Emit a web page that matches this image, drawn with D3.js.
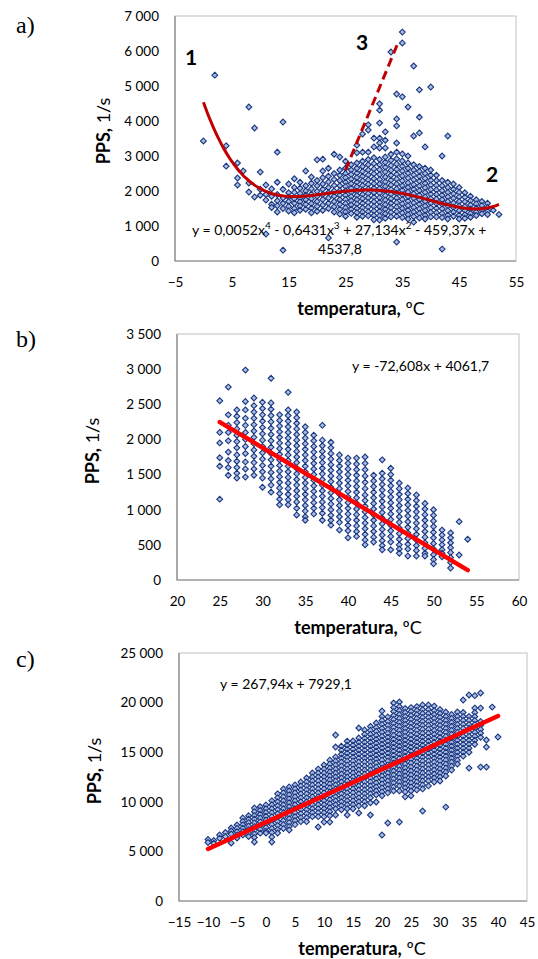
<!DOCTYPE html>
<html>
<meta charset="utf-8">
<head>
  <title>PPS vs temperatura</title>
</head>

<style>
body { margin: 0; background: #fff; }
text { font-family: Lato, "Open Sans", sans-serif; fill: #000; }
.tick text { font-size: 13.5px; }
.tick line { display: none; }
.domain { display: none; }
.letter { font-family: "Liberation Serif", "DejaVu Serif", serif; font-size: 24px; }
.num { font-size: 21px; font-weight: bold; }
.eq { font-size: 14px; }
.title { font-size: 18px; }
</style>

<body>
  <div id="chart"></div>

  <script src="https://d3js.org/d3.v7.min.js"></script>
  <script>

// ---------- panel a) : [temperatura, [PPS values ...]] ----------
var colsA = [
  [0, [3430]], [2, [5310]], [4, [3290, 2710]], [6, [2800, 2370, 2170]], [7, [2570]],
  [8, [4400, 2230, 1970]], [9, [3800, 1830]], [10, [2540, 2050, 1880]],
  [11, [2170, 1900, 1740, 770]], [12, [2060, 1850, 1620, 1530]],
  [13, [3110, 2250, 1900, 1720, 1580, 1400]], [14, [3970, 2050, 1800, 1650, 1500, 310]],
  [15, [2200, 1950, 1820, 1700, 1560, 1430]], [16, [2350, 2100, 1960, 1780, 1650, 1500, 1380]],
  [17, [2250, 2080, 1930, 1800, 1690, 1570, 1450]], [18, [2570, 2150, 2000, 1880, 1750, 1620, 1480]],
  [19, [2400, 2220, 2060, 1910, 1780, 1640, 1510, 1380]],
  [20, [2890, 2300, 2150, 1990, 1850, 1700, 1560, 1420]],
  [21, [2910, 2570, 2380, 2200, 2050, 1900, 1760, 1600, 1450]],
  [22, [2650, 2420, 2260, 2100, 1950, 1800, 1650, 1500, 660]],
  [23, [3050, 2500, 2330, 2160, 2000, 1850, 1700, 1550, 1400]],
  [24, [2970, 2600, 2450, 2300, 2150, 2010, 1880, 1750, 1620, 1480, 1340]],
  [25, [2850, 2650, 2500, 2380, 2250, 2130, 2000, 1880, 1760, 1640, 1520, 1400, 1280]],
  [26, [2750, 2600, 2470, 2340, 2210, 2080, 1960, 1840, 1720, 1600, 1480, 1360]],
  [27, [3310, 3090, 2800, 2650, 2510, 2380, 2250, 2120, 1990, 1870, 1750, 1630, 1500, 1380, 1250]],
  [28, [3630, 3110, 2850, 2700, 2560, 2420, 2290, 2160, 2030, 1900, 1780, 1650, 1520, 1400, 1280]],
  [29, [3890, 3740, 3110, 2900, 2750, 2600, 2460, 2320, 2190, 2060, 1930, 1800, 1670, 1540, 1410, 1290]],
  [30, [3510, 3260, 2950, 2780, 2630, 2490, 2350, 2210, 2080, 1950, 1820, 1690, 1560, 1430, 1300, 1180]],
  [31, [4490, 4310, 3940, 3510, 3370, 3230, 2900, 2750, 2610, 2470, 2330, 2200, 2070, 1940, 1810, 1680, 1550, 1420, 1290, 1170]],
  [32, [3690, 3450, 3230, 2970, 2820, 2680, 2540, 2400, 2260, 2130, 2000, 1870, 1740, 1610, 1480, 1350, 1220]],
  [33, [5970, 3050, 2880, 2730, 2590, 2450, 2310, 2170, 2040, 1910, 1780, 1650, 1520, 1390, 1260]],
  [34, [4770, 4060, 3860, 3370, 3110, 2920, 2770, 2620, 2480, 2340, 2200, 2060, 1930, 1800, 1670, 1540, 1410, 1280, 540]],
  [35, [6540, 6230, 4690, 3060, 2860, 2710, 2570, 2430, 2290, 2150, 2020, 1890, 1760, 1630, 1500, 1370, 1240]],
  [36, [4400, 3000, 2800, 2650, 2510, 2370, 2230, 2100, 1970, 1840, 1710, 1580, 1450, 1320, 1200]],
  [37, [5570, 3570, 2750, 2600, 2460, 2320, 2180, 2050, 1920, 1790, 1660, 1530, 1400, 1270, 1110]],
  [38, [4890, 4110, 3660, 2700, 2560, 2420, 2280, 2140, 2010, 1880, 1750, 1620, 1490, 1360, 1230]],
  [39, [3260, 2650, 2500, 2360, 2220, 2090, 1960, 1830, 1700, 1570, 1440, 1310, 1200]],
  [40, [4970, 2600, 2450, 2310, 2170, 2040, 1910, 1780, 1650, 1520, 1390, 1260]],
  [41, [2450, 2300, 2160, 2030, 1900, 1770, 1640, 1510, 1380, 1260]],
  [42, [3000, 2300, 2150, 2010, 1880, 1750, 1620, 1490, 1360, 1240, 340]],
  [43, [3570, 2250, 2100, 1960, 1830, 1700, 1570, 1440, 1310, 1200]],
  [44, [2200, 2050, 1920, 1790, 1660, 1530, 1400, 1280]],
  [45, [2100, 1960, 1830, 1700, 1570, 1440, 1310, 1200]],
  [46, [1950, 1820, 1690, 1560, 1440, 1320, 1220]],
  [47, [1850, 1720, 1600, 1480, 1360, 1250]],
  [48, [1750, 1630, 1510, 1400, 1300]],
  [49, [1700, 1580, 1460, 1350]],
  [50, [1650, 1530, 1420, 1330]],
  [51, [1450]], [52, [1330]]
];
// 4th order trend: c4, c3, c2, c1, c0
var polyA = [0.0052, -0.6431, 27.134, -459.37, 4537.8];
var polyRangeA = [0, 52];
var dashA = [[25, 2600], [34.3, 6260]];

// ---------- panel b) ----------
var colsB = [
  [25, [2550, 2100, 1950, 1740, 1620, 1150]],
  [26, [2745, 2350, 2200, 2100, 1980, 1820, 1700, 1600, 1490]],
  [27, [2420, 2330, 2240, 2150, 2060, 1970, 1880, 1780, 1690, 1600, 1520, 1450]],
  [28, [2987, 2540, 2420, 2300, 2200, 2100, 2000, 1900, 1800, 1680, 1580, 1465]],
  [29, [2590, 2480, 2390, 2300, 2210, 2120, 2030, 1940, 1850, 1760, 1670, 1580, 1490]],
  [30, [2530, 2440, 2350, 2260, 2170, 2080, 1990, 1900, 1810, 1720, 1630, 1540, 1450, 1320]],
  [31, [2870, 2520, 2430, 2340, 2250, 2160, 2070, 1980, 1890, 1800, 1710, 1620, 1530, 1440, 1350, 1250]],
  [32, [2350, 2270, 2190, 2110, 2030, 1950, 1870, 1790, 1710, 1630, 1550, 1470, 1390, 1310, 1230, 1150, 1070]],
  [33, [2670, 2420, 2340, 2260, 2180, 2100, 2020, 1940, 1860, 1780, 1700, 1620, 1540, 1460, 1380, 1300, 1220, 1140, 1070]],
  [34, [2390, 2310, 2230, 2150, 2070, 1990, 1910, 1830, 1750, 1670, 1590, 1510, 1430, 1350, 1270, 1190, 1110, 1020, 925]],
  [35, [2180, 2100, 2020, 1940, 1860, 1780, 1700, 1620, 1540, 1460, 1380, 1300, 1220, 1140, 1060, 980, 900, 850]],
  [36, [2060, 1980, 1900, 1820, 1740, 1660, 1580, 1500, 1420, 1340, 1260, 1180, 1100, 1020, 940]],
  [37, [2200, 1990, 1910, 1830, 1750, 1670, 1590, 1510, 1430, 1350, 1270, 1190, 1110, 1030, 950, 850]],
  [38, [1960, 1880, 1800, 1720, 1640, 1560, 1480, 1400, 1320, 1240, 1160, 1080, 1000, 920, 850, 780]],
  [39, [1780, 1700, 1620, 1540, 1460, 1380, 1300, 1220, 1140, 1060, 980, 900, 820, 710]],
  [40, [1735, 1660, 1580, 1500, 1420, 1340, 1260, 1180, 1100, 1020, 940, 860, 780, 700, 600]],
  [41, [1735, 1650, 1570, 1490, 1410, 1330, 1250, 1170, 1090, 1010, 930, 850, 770, 690, 620]],
  [42, [1750, 1660, 1570, 1480, 1390, 1300, 1210, 1130, 1050, 970, 890, 810, 730, 650, 570, 500]],
  [43, [1490, 1410, 1330, 1250, 1170, 1090, 1010, 930, 850, 770, 690, 610, 540]],
  [44, [1710, 1520, 1440, 1360, 1280, 1200, 1120, 1040, 960, 880, 800, 720, 640, 560, 490, 430]],
  [45, [1590, 1500, 1420, 1340, 1260, 1180, 1100, 1020, 940, 860, 780, 700, 620, 540, 430]],
  [46, [1380, 1300, 1220, 1140, 1060, 980, 900, 820, 740, 660, 580, 500, 440, 380]],
  [47, [1310, 1230, 1150, 1070, 990, 910, 830, 750, 670, 590, 510, 440, 340]],
  [48, [1210, 1130, 1050, 970, 890, 810, 730, 650, 570, 490, 420, 340]],
  [49, [1090, 1010, 930, 850, 770, 690, 610, 530, 450, 380, 340]],
  [50, [1000, 920, 840, 760, 680, 600, 520, 440, 360, 290, 230]],
  [51, [710, 640, 570, 500, 430, 380, 330]],
  [52, [670, 600, 530, 460, 390, 320, 250, 170]],
  [53, [830, 355]], [54, [580]]
];
var lineB = [-72.608, 4061.7];
var lineRangeB = [25, 54];

// ---------- panel c) ----------
var colsC = [
  [-10, [6200, 5900]], [-9, [6100, 5820]], [-8, [6650, 6320]], [-7, [6900, 6500]],
  [-6, [7360, 7050, 6750, 5850]], [-5, [7660, 7320, 6980, 6640, 6350]],
  [-4, [8370, 8020, 7680, 7340, 7000, 6660]], [-3, [8600, 8250, 7900, 7550, 7200, 6850, 6500]],
  [-2, [9370, 9000, 8620, 8250, 7880, 7500, 7130, 6760, 6400, 5950]],
  [-1, [9500, 9120, 8740, 8360, 7980, 7600, 7220, 6840]],
  [0, [9680, 9300, 8920, 8540, 8160, 7780, 7400, 7020, 6850]],
  [1, [10100, 9700, 9300, 8900, 8500, 8100, 7700, 7300, 6900, 6450, 5950]],
  [2, [10800, 10400, 10000, 9600, 9200, 8800, 8400, 8000, 7600, 7200, 6850]],
  [3, [11300, 10900, 10500, 10100, 9700, 9300, 8900, 8500, 8100, 7700, 7300]],
  [4, [11500, 11100, 10700, 10300, 9900, 9500, 9100, 8700, 8300, 7900, 7500, 7160]],
  [5, [11700, 11300, 10900, 10500, 10100, 9700, 9300, 8900, 8500, 8100, 7700]],
  [6, [12000, 11600, 11200, 10800, 10400, 10000, 9600, 9200, 8800, 8400, 8000]],
  [7, [12400, 12000, 11600, 11200, 10800, 10400, 10000, 9600, 9200, 8800, 8400, 8000]],
  [8, [12900, 12500, 12100, 11700, 11300, 10900, 10500, 10100, 9700, 9300, 8900, 8500]],
  [9, [13300, 12900, 12500, 12100, 11700, 11300, 10900, 10500, 10100, 9700, 9300, 8900, 8500, 7460]],
  [10, [13710, 13300, 12900, 12500, 12100, 11700, 11300, 10900, 10500, 10100, 9700, 9300, 8900, 8500, 7960]],
  [11, [14200, 13800, 13400, 13000, 12600, 12200, 11800, 11400, 11000, 10600, 10200, 9800, 9400, 9000, 8600, 7960]],
  [12, [16730, 15520, 14520, 14100, 13700, 13300, 12900, 12500, 12100, 11700, 11300, 10900, 10500, 10100, 9700, 9300, 8670]],
  [13, [15600, 15200, 14800, 14400, 14000, 13600, 13200, 12800, 12400, 12000, 11600, 11200, 10800, 10400, 10000, 9600, 9200]],
  [14, [16100, 15700, 15300, 14900, 14500, 14100, 13700, 13300, 12900, 12500, 12100, 11700, 11300, 10900, 10500, 10100, 9700, 9300, 8670]],
  [15, [16130, 15700, 15300, 14900, 14500, 14100, 13700, 13300, 12900, 12500, 12100, 11700, 11300, 10900, 10500, 10100, 9700, 9300]],
  [16, [17440, 16430, 16000, 15600, 15200, 14800, 14400, 14000, 13600, 13200, 12800, 12400, 12000, 11600, 11200, 10800, 10400, 10000, 9600, 8870]],
  [17, [17240, 16800, 16400, 16000, 15600, 15200, 14800, 14400, 14000, 13600, 13200, 12800, 12400, 12000, 11600, 11200, 10800, 10400, 10000, 9600]],
  [18, [17600, 17200, 16800, 16400, 16000, 15600, 15200, 14800, 14400, 14000, 13600, 13200, 12800, 12400, 12000, 11600, 11200, 10800, 10400, 9900, 8670]],
  [19, [17940, 17500, 17100, 16700, 16300, 15900, 15500, 15100, 14700, 14300, 13900, 13500, 13100, 12700, 12300, 11900, 11500, 11100, 10700, 9980]],
  [20, [19150, 18600, 18200, 17800, 17400, 17000, 16600, 16200, 15800, 15400, 15000, 14600, 14200, 13800, 13400, 13000, 12600, 12200, 11800, 11400, 11000, 10600, 6650]],
  [21, [18550, 18100, 17700, 17300, 16900, 16500, 16100, 15700, 15300, 14900, 14500, 14100, 13700, 13300, 12900, 12500, 12100, 11700, 11300, 10900, 7860]],
  [22, [19960, 19500, 19100, 18700, 18300, 17900, 17500, 17100, 16700, 16300, 15900, 15500, 15100, 14700, 14300, 13900, 13500, 13100, 12700, 12300, 11900, 11500, 11100]],
  [23, [20060, 19600, 19200, 18800, 18400, 18000, 17600, 17200, 16800, 16400, 16000, 15600, 15200, 14800, 14400, 14000, 13600, 13200, 12800, 12400, 12000, 11600, 11100, 7960]],
  [24, [19400, 19000, 18600, 18200, 17800, 17400, 17000, 16600, 16200, 15800, 15400, 15000, 14600, 14200, 13800, 13400, 13000, 12600, 12200, 11800, 11400, 11000, 10500]],
  [25, [19500, 19100, 18700, 18300, 17900, 17500, 17100, 16700, 16300, 15900, 15500, 15100, 14700, 14300, 13900, 13500, 13100, 12700, 12300, 11900, 11500, 11100, 10600]],
  [26, [19600, 19200, 18800, 18400, 18000, 17600, 17200, 16800, 16400, 16000, 15600, 15200, 14800, 14400, 14000, 13600, 13200, 12800, 12400, 12000, 11600, 11200]],
  [27, [19760, 19300, 18900, 18500, 18100, 17700, 17300, 16900, 16500, 16100, 15700, 15300, 14900, 14500, 14100, 13700, 13300, 12900, 12500, 12100, 11700, 11300, 9070]],
  [28, [19760, 19300, 18900, 18500, 18100, 17700, 17300, 16900, 16500, 16100, 15700, 15300, 14900, 14500, 14100, 13700, 13300, 12900, 12500, 12100, 11600]],
  [29, [19650, 19200, 18800, 18400, 18000, 17600, 17200, 16800, 16400, 16000, 15600, 15200, 14800, 14400, 14000, 13600, 13200, 12800, 12400, 12000]],
  [30, [19300, 18900, 18500, 18100, 17700, 17300, 16900, 16500, 16100, 15700, 15300, 14900, 14500, 14100, 13700, 13300, 12900, 12500, 12100]],
  [31, [19050, 18600, 18200, 17800, 17400, 17000, 16600, 16200, 15800, 15400, 15000, 14600, 14200, 13800, 13400, 13000, 12600, 9470]],
  [32, [18800, 18400, 18000, 17600, 17200, 16800, 16400, 16000, 15600, 15200, 14800, 14400, 14000, 13600, 13200]],
  [33, [19050, 18600, 18200, 17800, 17400, 17000, 16600, 16200, 15800, 15400, 15000, 14600, 14200, 13800]],
  [34, [20260, 19000, 18600, 18200, 17800, 17400, 17000, 16600, 16200, 15800, 15400, 15000, 14600]],
  [35, [20770, 18600, 18200, 17800, 17400, 17000, 16600, 16200, 15800, 15400, 15000, 13400]],
  [36, [20700, 19450, 19000, 18600, 18200, 17800, 17400, 17000, 16600, 16200, 15800]],
  [37, [20970, 19450, 18100, 17700, 17300, 16900, 16500, 13500]],
  [38, [16230, 15520, 13500]], [39, [19550]], [40, [16530]]
];
var lineC = [267.94, 7929.1];
var lineRangeC = [-10, 40];

// ticks
var xTicksA = [-5, 5, 15, 25, 35, 45, 55];
var yTicksA = [0, 1000, 2000, 3000, 4000, 5000, 6000, 7000];
var xTicksB = [20, 25, 30, 35, 40, 45, 50, 55, 60];
var yTicksB = [0, 500, 1000, 1500, 2000, 2500, 3000, 3500];
var xTicksC = [-15, -10, -5, 0, 5, 10, 15, 20, 25, 30, 35, 40, 45];
var yTicksC = [0, 5000, 10000, 15000, 20000, 25000];

var svg = d3.select('#chart').append('svg')
  .attr('width', 538)
  .attr('height', 959);

var fmt = function(v) { return d3.format(',')(v).replace(/,/g, '\u00a0'); };
var diamond = 'M0,-2.9L2.9,0L0,2.9L-2.9,0Z';

function flat(cols) {
  var out = [];
  cols.forEach(function(c) { c[1].forEach(function(v) { out.push([c[0], v]); }); });
  return out;
}

function drawPanel(p) {
  var x = d3.scaleLinear().domain([p.xTicks[0], p.xTicks[p.xTicks.length - 1]]).range([p.left, p.right]);
  var y = d3.scaleLinear().domain([p.yTicks[0], p.yTicks[p.yTicks.length - 1]]).range([p.bottom, p.top]);
  var g = svg.append('g');

  // plot area frame
  g.append('rect')
    .attr('x', p.left).attr('y', p.top)
    .attr('width', p.right - p.left).attr('height', p.bottom - p.top)
    .attr('fill', 'none').attr('stroke', '#c0c0c0').attr('stroke-width', 1);
  g.append('path')
    .attr('d', 'M' + p.left + ',' + p.top + 'V' + p.bottom + 'H' + p.right)
    .attr('fill', 'none').attr('stroke', '#868686').attr('stroke-width', 1.2);

  g.append('g')
    .attr('transform', 'translate(0,' + p.bottom + ')')
    .call(d3.axisBottom(x).tickValues(p.xTicks).tickSize(0).tickPadding(16).tickFormat(fmt));
  g.append('g')
    .attr('transform', 'translate(' + p.left + ',0)')
    .call(d3.axisLeft(y).tickValues(p.yTicks).tickSize(0).tickPadding(16).tickFormat(fmt));

  // points
  g.append('g').selectAll('path')
    .data(flat(p.cols))
    .join('path')
    .attr('d', diamond)
    .attr('transform', function(d) { return 'translate(' + x(d[0]) + ',' + y(d[1]) + ')'; })
    .attr('fill', '#a9bde2')
    .attr('stroke', '#1a3680')
    .attr('stroke-width', 1.1);

  // axis titles
  var xt = g.append('text').attr('class', 'title')
    .attr('x', p.xTitle[0]).attr('y', p.xTitle[1]).attr('text-anchor', 'middle');
  xt.append('tspan').attr('font-weight', 'bold').text('temperatura,');
  xt.append('tspan').text(' \u00baC');

  var yt = g.append('text').attr('class', 'title')
    .attr('transform', 'translate(' + p.yTitle[0] + ',' + p.yTitle[1] + ') rotate(-90)')
    .attr('text-anchor', 'middle');
  yt.append('tspan').attr('font-weight', 'bold').text('PPS,');
  yt.append('tspan').text(' 1/s');

  g.append('text').attr('class', 'letter')
    .attr('x', 16).attr('y', p.letterY).text(p.letter);

  return {g: g, x: x, y: y};
}

// ---- a)
var pa = drawPanel({cols: colsA, xTicks: xTicksA, yTicks: yTicksA,
  left: 175, right: 516, top: 16, bottom: 261,
  xTitle: [361, 315], yTitle: [110, 131], letter: 'a)', letterY: 33});

var polyLine = d3.line()
  .x(function(t) { return pa.x(t); })
  .y(function(t) {
    return pa.y(polyA[0] * Math.pow(t, 4) + polyA[1] * Math.pow(t, 3) + polyA[2] * t * t + polyA[3] * t + polyA[4]);
  })
  .curve(d3.curveBasis);
pa.g.append('path')
  .attr('d', polyLine(d3.range(polyRangeA[0], polyRangeA[1] + 0.5, 0.5)))
  .attr('fill', 'none').attr('stroke', '#c00000').attr('stroke-width', 3);
pa.g.append('line')
  .attr('x1', pa.x(dashA[0][0])).attr('y1', pa.y(dashA[0][1]))
  .attr('x2', pa.x(dashA[1][0])).attr('y2', pa.y(dashA[1][1]))
  .attr('stroke', '#c00000').attr('stroke-width', 3).attr('stroke-dasharray', '9,5');

// equation with superscripts
var eqA = pa.g.append('text').attr('class', 'eq').attr('x', 192).attr('y', 235);
eqA.append('tspan').text('y = 0,0052x');
eqA.append('tspan').attr('dy', -6).attr('font-size', '10px').text('4');
eqA.append('tspan').attr('dy', 6).text(' - 0,6431x');
eqA.append('tspan').attr('dy', -6).attr('font-size', '10px').text('3');
eqA.append('tspan').attr('dy', 6).text(' + 27,134x');
eqA.append('tspan').attr('dy', -6).attr('font-size', '10px').text('2');
eqA.append('tspan').attr('dy', 6).text(' - 459,37x +');
pa.g.append('text').attr('class', 'eq').attr('x', 340).attr('y', 254).attr('text-anchor', 'middle').text('4537,8');

pa.g.append('text').attr('class', 'num').attr('x', 191).attr('y', 65).attr('text-anchor', 'middle').text('1');
pa.g.append('text').attr('class', 'num').attr('x', 362).attr('y', 50).attr('text-anchor', 'middle').text('3');
pa.g.append('text').attr('class', 'num').attr('x', 492).attr('y', 182).attr('text-anchor', 'middle').text('2');

// ---- b)
var pb = drawPanel({cols: colsB, xTicks: xTicksB, yTicks: yTicksB,
  left: 177, right: 519, top: 334, bottom: 580,
  xTitle: [358, 634], yTitle: [99, 451], letter: 'b)', letterY: 347});
pb.g.append('line')
  .attr('x1', pb.x(lineRangeB[0])).attr('y1', pb.y(lineB[0] * lineRangeB[0] + lineB[1]))
  .attr('x2', pb.x(lineRangeB[1])).attr('y2', pb.y(lineB[0] * lineRangeB[1] + lineB[1]))
  .attr('stroke', '#ff0000').attr('stroke-width', 4.5).attr('stroke-linecap', 'round');
pb.g.append('text').attr('class', 'eq').attr('x', 352).attr('y', 371).text('y = -72,608x + 4061,7');

// ---- c)
var pc = drawPanel({cols: colsC, xTicks: xTicksC, yTicks: yTicksC,
  left: 179, right: 527, top: 653, bottom: 901,
  xTitle: [362, 955], yTitle: [101, 771], letter: 'c)', letterY: 667});
pc.g.append('line')
  .attr('x1', pc.x(lineRangeC[0])).attr('y1', pc.y(lineC[0] * lineRangeC[0] + lineC[1]))
  .attr('x2', pc.x(lineRangeC[1])).attr('y2', pc.y(lineC[0] * lineRangeC[1] + lineC[1]))
  .attr('stroke', '#ff0000').attr('stroke-width', 4.5).attr('stroke-linecap', 'round');
pc.g.append('text').attr('class', 'eq').attr('x', 220).attr('y', 689).text('y = 267,94x + 7929,1');

  </script>
</body>
</html>
